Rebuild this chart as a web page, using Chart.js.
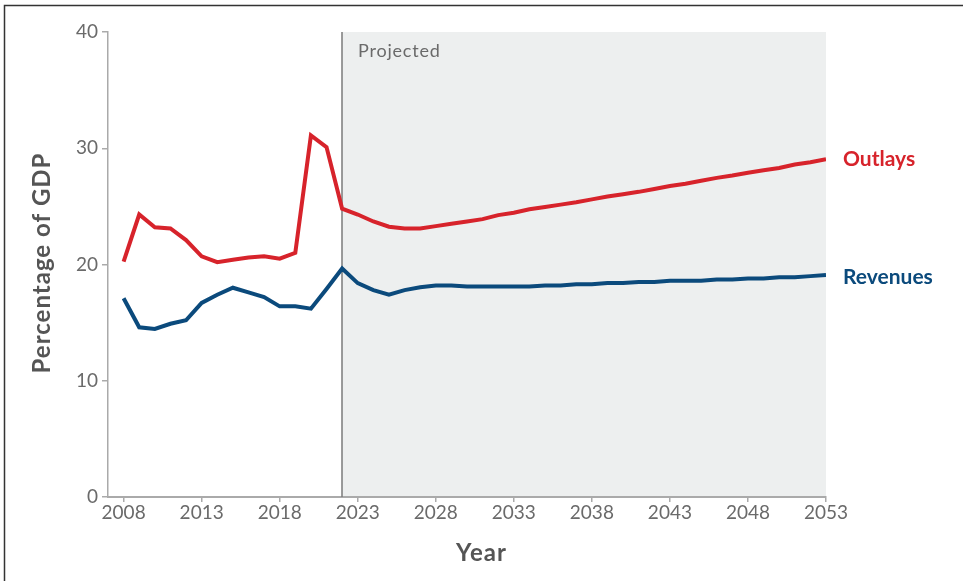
<!DOCTYPE html>
<html>
<head>
<meta charset="utf-8">
<script src="https://cdn.jsdelivr.net/npm/chart.js@4/dist/chart.umd.min.js"></script>
<style>
  html, body { margin: 0; padding: 0; background: #fff; }
  #wrap { position: relative; width: 963px; height: 581px; }
</style>
</head>
<body>
<div id="wrap"><canvas id="c" width="963" height="581"></canvas></div>
<script>
const years = [2008,2009,2010,2011,2012,2013,2014,2015,2016,2017,2018,2019,2020,2021,2022,
  2023,2024,2025,2026,2027,2028,2029,2030,2031,2032,2033,2034,2035,2036,2037,2038,
  2039,2040,2041,2042,2043,2044,2045,2046,2047,2048,2049,2050,2051,2052,2053];
const outlays = [20.25,24.3,23.2,23.1,22.1,20.7,20.2,20.4,20.6,20.7,20.5,21.0,31.1,30.1,24.8,
  24.3,23.7,23.25,23.1,23.1,23.3,23.5,23.7,23.9,24.25,24.45,24.75,24.95,25.15,25.35,25.6,
  25.85,26.05,26.25,26.5,26.75,26.95,27.2,27.45,27.65,27.9,28.1,28.3,28.6,28.8,29.05];
const revenues = [17.1,14.6,14.45,14.9,15.2,16.7,17.4,18.0,17.6,17.2,16.4,16.4,16.2,17.9,19.65,
  18.4,17.8,17.4,17.8,18.05,18.2,18.2,18.1,18.1,18.1,18.1,18.1,18.2,18.2,18.3,18.3,
  18.4,18.4,18.5,18.5,18.6,18.6,18.6,18.7,18.7,18.8,18.8,18.9,18.9,19.0,19.1];
const xTicks = [2008,2013,2018,2023,2028,2033,2038,2043,2048,2053];
const yTicks = [0,10,20,30,40];
const projectedStart = 2022;
const seriesNames = ['Outlays','Revenues'];
const labels = { y: 'Percentage of GDP', x: 'Year', projected: 'Projected' };

const RED = '#d7232b', BLUE = '#0b4a7c', AXIS = '#aaaaaa', TXT = '#6a6a6a', TITLE = '#555555';

const overlay = {
  id: 'overlay',
  beforeDraw(chart) {
    const ctx = chart.ctx, a = chart.chartArea, xs = chart.scales.x;
    ctx.save();
    ctx.strokeStyle = '#333';
    ctx.lineWidth = 1.5;
    ctx.beginPath();
    ctx.moveTo(4.5, 581); ctx.lineTo(4.5, 5.5); ctx.lineTo(963, 5.5);
    ctx.stroke();
    const px = xs.getPixelForValue(projectedStart);
    ctx.fillStyle = '#edefef';
    ctx.fillRect(px, a.top, a.right - px, a.bottom - a.top);
    ctx.restore();
  },
  beforeDatasetsDraw(chart) {
    const ctx = chart.ctx, a = chart.chartArea, xs = chart.scales.x;
    const px = Math.round(xs.getPixelForValue(projectedStart));
    ctx.save();
    ctx.strokeStyle = '#7a7a7a';
    ctx.lineWidth = 1.5;
    ctx.beginPath();
    ctx.moveTo(px, a.top); ctx.lineTo(px, a.bottom);
    ctx.stroke();
    ctx.fillStyle = TXT;
    ctx.font = '18px Lato';
    ctx.letterSpacing = '0.8px';
    ctx.textBaseline = 'middle';
    ctx.textAlign = 'left';
    ctx.fillText(labels.projected, px + 16, a.top + 19);
    ctx.restore();
  },
  afterDraw(chart) {
    const ctx = chart.ctx, a = chart.chartArea, ys = chart.scales.y;
    ctx.save();
    ctx.textBaseline = 'middle';
    ctx.font = 'bold 21px Lato';
    ctx.textAlign = 'left';
    ctx.fillStyle = RED;
    ctx.fillText(seriesNames[0], a.right + 17, ys.getPixelForValue(outlays[outlays.length - 1]));
    ctx.fillStyle = BLUE;
    ctx.fillText(seriesNames[1], a.right + 17, ys.getPixelForValue(revenues[revenues.length - 1]) + 2);
    ctx.fillStyle = TITLE;
    ctx.font = 'bold 24px Lato';
    ctx.letterSpacing = '1px';
    ctx.textAlign = 'center';
    ctx.fillText(labels.x, chart.width / 2, 553);
    ctx.translate(42, 263);
    ctx.rotate(-Math.PI / 2);
    ctx.fillText(labels.y, 0, 0);
    ctx.restore();
  }
};

new Chart(document.getElementById('c'), {
  type: 'line',
  data: {
    datasets: [
      { label: seriesNames[0], data: years.map((y, i) => ({ x: y, y: outlays[i] })),
        borderColor: RED, borderWidth: 4, pointRadius: 0, tension: 0, fill: false, borderJoinStyle: 'miter' },
      { label: seriesNames[1], data: years.map((y, i) => ({ x: y, y: revenues[i] })),
        borderColor: BLUE, borderWidth: 4, pointRadius: 0, tension: 0, fill: false, borderJoinStyle: 'miter' }
    ]
  },
  options: {
    responsive: false,
    animation: false,
    devicePixelRatio: 1,
    layout: { padding: { top: 32, right: 137, left: 0, bottom: 0 } },
    plugins: { legend: { display: false }, tooltip: { enabled: false } },
    scales: {
      x: {
        type: 'linear', min: 2007, max: 2053,
        afterBuildTicks: s => { s.ticks = xTicks.map(v => ({ value: v })); },
        afterFit: s => { s.height = 84; },
        grid: { drawOnChartArea: false, drawTicks: true, tickLength: 5, color: AXIS, lineWidth: 1.5 },
        border: { color: AXIS, width: 2 },
        ticks: { color: TXT, font: { family: 'Lato', size: 19 }, padding: -1, maxRotation: 0,
                 callback: v => String(v) }
      },
      y: {
        min: 0, max: 40,
        afterBuildTicks: s => { s.ticks = yTicks.map(v => ({ value: v })); },
        afterFit: s => { s.width = 108; },
        grid: { drawOnChartArea: false, drawTicks: true, tickLength: 6, color: AXIS, lineWidth: 1.5 },
        border: { color: AXIS, width: 1.5 },
        ticks: { color: TXT, font: { family: 'Lato', size: 19 }, padding: 4 }
      }
    }
  },
  plugins: [overlay]
});
</script>
</body>
</html>
